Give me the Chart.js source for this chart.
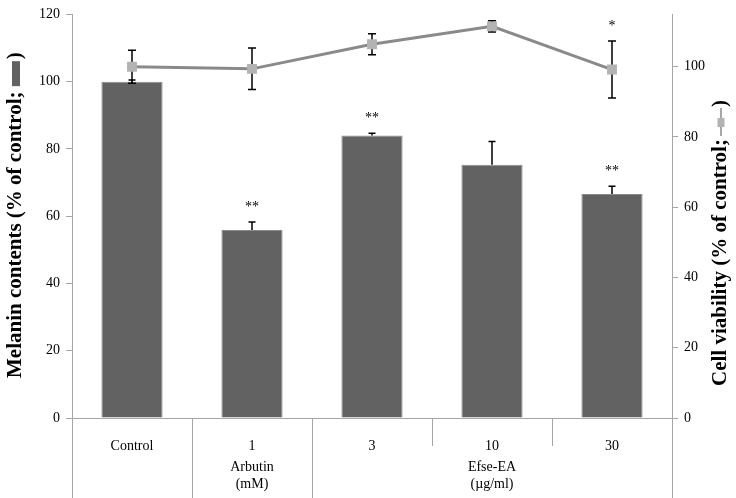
<!DOCTYPE html>
<html>
<head>
<meta charset="utf-8">
<script src="https://cdn.jsdelivr.net/npm/chart.js@4.4.0/dist/chart.umd.min.js"></script>
<style>
html,body{margin:0;padding:0;background:#fff;}
#wrap{width:736px;height:498px;position:relative;}
</style>
</head>
<body>
<div id="wrap"><canvas id="c" width="736" height="498"></canvas></div>
<script>
const categories = ['Control', '1', '3', '10', '30'];
const groupLabels = [
  {text: ['Arbutin', '(mM)'], from: 1, to: 1},
  {text: ['Efse-EA', '(\u00b5g/ml)'], from: 2, to: 4}
];
const melanin = [100, 55.9, 84.0, 75.3, 66.6];
const melaninErr = [0.5, 2.4, 0.7, 6.9, 2.3];
const melaninSig = ['', '**', '**', '', '**'];
const viability = [100, 99.4, 106.4, 111.5, 99.2];
const viabilityErr = [4.7, 5.9, 3.0, 1.6, 8.1];
const viabilitySig = ['', '', '', '', '*'];
const leftTicks = [0, 20, 40, 60, 80, 100, 120];
const rightTicks = [0, 20, 40, 60, 80, 100];
const leftTitle = 'Melanin contents (% of control; ';
const rightTitle = 'Cell viability (% of control;';

const AXIS = '#a6a6a6';
const BAR = '#626262';
const LINE = '#8a8a8a';
const MARK = '#b3b3b3';
const SERIF = '"Liberation Serif", "Times New Roman", serif';

function drawErr(ctx, chart, idx, vals, errs, axisId, cap, upOnly) {
  const meta = chart.getDatasetMeta(idx);
  const ys = chart.scales[axisId];
  ctx.save();
  ctx.strokeStyle = '#000';
  ctx.lineWidth = 1.5;
  meta.data.forEach((el, i) => {
    const x = el.x;
    const yt = ys.getPixelForValue(vals[i] + errs[i]);
    const yb = upOnly ? ys.getPixelForValue(vals[i]) : ys.getPixelForValue(vals[i] - errs[i]);
    ctx.beginPath();
    ctx.moveTo(x, yt); ctx.lineTo(x, yb);
    ctx.moveTo(x - cap, yt); ctx.lineTo(x + cap, yt);
    if (!upOnly) { ctx.moveTo(x - cap, yb); ctx.lineTo(x + cap, yb); }
    ctx.stroke();
  });
  ctx.restore();
}

const custom = {
  id: 'custom',
  beforeDatasetDraw(chart, args) {
    if (args.index === 1) {
      drawErr(chart.ctx, chart, 1, viability, viabilityErr, 'y1', 4, false);
    }
  },
  afterDatasetDraw(chart, args) {
    if (args.index === 0) {
      drawErr(chart.ctx, chart, 0, melanin, melaninErr, 'y', 3.5, true);
    }
  },
  afterDraw(chart) {
    const ctx = chart.ctx;
    const xs = chart.scales.x;
    const y0 = chart.scales.y;
    const y1 = chart.scales.y1;
    const ca = chart.chartArea;
    ctx.save();
    ctx.fillStyle = '#000';
    ctx.font = '14px ' + SERIF;
    ctx.textAlign = 'center';
    ctx.textBaseline = 'middle';
    melaninSig.forEach((s, i) => {
      if (!s) return;
      const x = xs.getPixelForValue(i);
      const y = y0.getPixelForValue(melanin[i] + melaninErr[i]);
      ctx.fillText(s, x, y - 15);
    });
    viabilitySig.forEach((s, i) => {
      if (!s) return;
      const x = xs.getPixelForValue(i);
      const y = y1.getPixelForValue(viability[i] + viabilityErr[i]);
      ctx.fillText(s, x, y - 15);
    });
    const half = (xs.getPixelForValue(1) - xs.getPixelForValue(0)) / 2;
    ctx.strokeStyle = AXIS;
    ctx.lineWidth = 1;
    const bottom = chart.height;
    const bounds = [0, 1, 2, 5];
    for (let k = 0; k <= categories.length; k++) {
      const x = Math.round(xs.getPixelForValue(k) - half) + 0.5;
      const full = bounds.includes(k);
      ctx.beginPath();
      ctx.moveTo(x, ca.bottom);
      ctx.lineTo(x, full ? bottom : ca.bottom + 28);
      ctx.stroke();
    }
    ctx.beginPath();
    ctx.moveTo(ca.left - 6, Math.round(ca.bottom) + 0.5);
    ctx.lineTo(ca.right + 6, Math.round(ca.bottom) + 0.5);
    ctx.stroke();
    ctx.fillStyle = '#000';
    ctx.font = '14px ' + SERIF;
    groupLabels.forEach(g => {
      const x = (xs.getPixelForValue(g.from) + xs.getPixelForValue(g.to)) / 2;
      ctx.fillText(g.text[0], x, ca.bottom + 49);
      ctx.fillText(g.text[1], x, ca.bottom + 66);
    });
    ctx.font = 'bold 21px ' + SERIF;
    ctx.textAlign = 'left';
    ctx.textBaseline = 'middle';
    ctx.save();
    ctx.translate(16, 378);
    ctx.rotate(-Math.PI / 2);
    ctx.fillText(leftTitle, 0, 0);
    let w = ctx.measureText(leftTitle).width;
    ctx.fillStyle = BAR;
    ctx.fillRect(w, -4, 25, 8);
    ctx.fillStyle = '#000';
    ctx.fillText(')', w + 27, 0);
    ctx.restore();
    ctx.save();
    ctx.translate(721, 386);
    ctx.rotate(-Math.PI / 2);
    ctx.fillText(rightTitle, 0, 0);
    w = ctx.measureText(rightTitle).width;
    ctx.strokeStyle = LINE;
    ctx.lineWidth = 1.5;
    ctx.beginPath();
    ctx.moveTo(w + 3, 0); ctx.lineTo(w + 31, 0);
    ctx.stroke();
    ctx.fillStyle = MARK;
    ctx.fillRect(w + 12, -3.5, 9, 7);
    ctx.fillStyle = '#000';
    ctx.fillText(')', w + 32, 0);
    ctx.restore();
    ctx.restore();
  }
};

new Chart(document.getElementById('c'), {
  data: {
    labels: categories,
    datasets: [
      {
        type: 'bar',
        data: melanin,
        yAxisID: 'y',
        backgroundColor: BAR,
        borderColor: '#8a8a8a',
        borderWidth: 1,
        categoryPercentage: 1,
        barPercentage: 0.51,
        order: 1
      },
      {
        type: 'line',
        data: viability,
        yAxisID: 'y1',
        borderColor: LINE,
        borderWidth: 3,
        pointStyle: 'rect',
        pointRadius: 7,
        pointBackgroundColor: MARK,
        pointBorderWidth: 0,
        tension: 0,
        order: 0
      }
    ]
  },
  options: {
    responsive: false,
    animation: false,
    devicePixelRatio: 1,
    layout: {padding: {top: 8, left: 0, right: 0, bottom: 0}},
    plugins: {legend: {display: false}, tooltip: {enabled: false}},
    scales: {
      x: {
        offset: true,
        grid: {display: false},
        border: {display: true, color: AXIS},
        ticks: {color: '#000', font: {family: SERIF, size: 14}, padding: 12, maxRotation: 0, autoSkip: false},
        afterFit(s) { s.height = 80; }
      },
      y: {
        position: 'left',
        min: 0, max: 120,
        afterBuildTicks(s) { s.ticks = leftTicks.map(v => ({value: v})); },
        grid: {drawOnChartArea: false, drawTicks: true, tickLength: 6, color: AXIS},
        border: {display: true, color: AXIS},
        ticks: {color: '#000', font: {family: SERIF, size: 14}, padding: 6},
        afterFit(s) { s.width = 72; }
      },
      y1: {
        position: 'right',
        min: 0, max: 114.9,
        afterBuildTicks(s) { s.ticks = rightTicks.map(v => ({value: v})); },
        grid: {drawOnChartArea: false, drawTicks: true, tickLength: 6, color: AXIS},
        border: {display: true, color: AXIS},
        ticks: {color: '#000', font: {family: SERIF, size: 14}, padding: 6},
        afterFit(s) { s.width = 64; }
      }
    }
  },
  plugins: [custom]
});
</script>
</body>
</html>
